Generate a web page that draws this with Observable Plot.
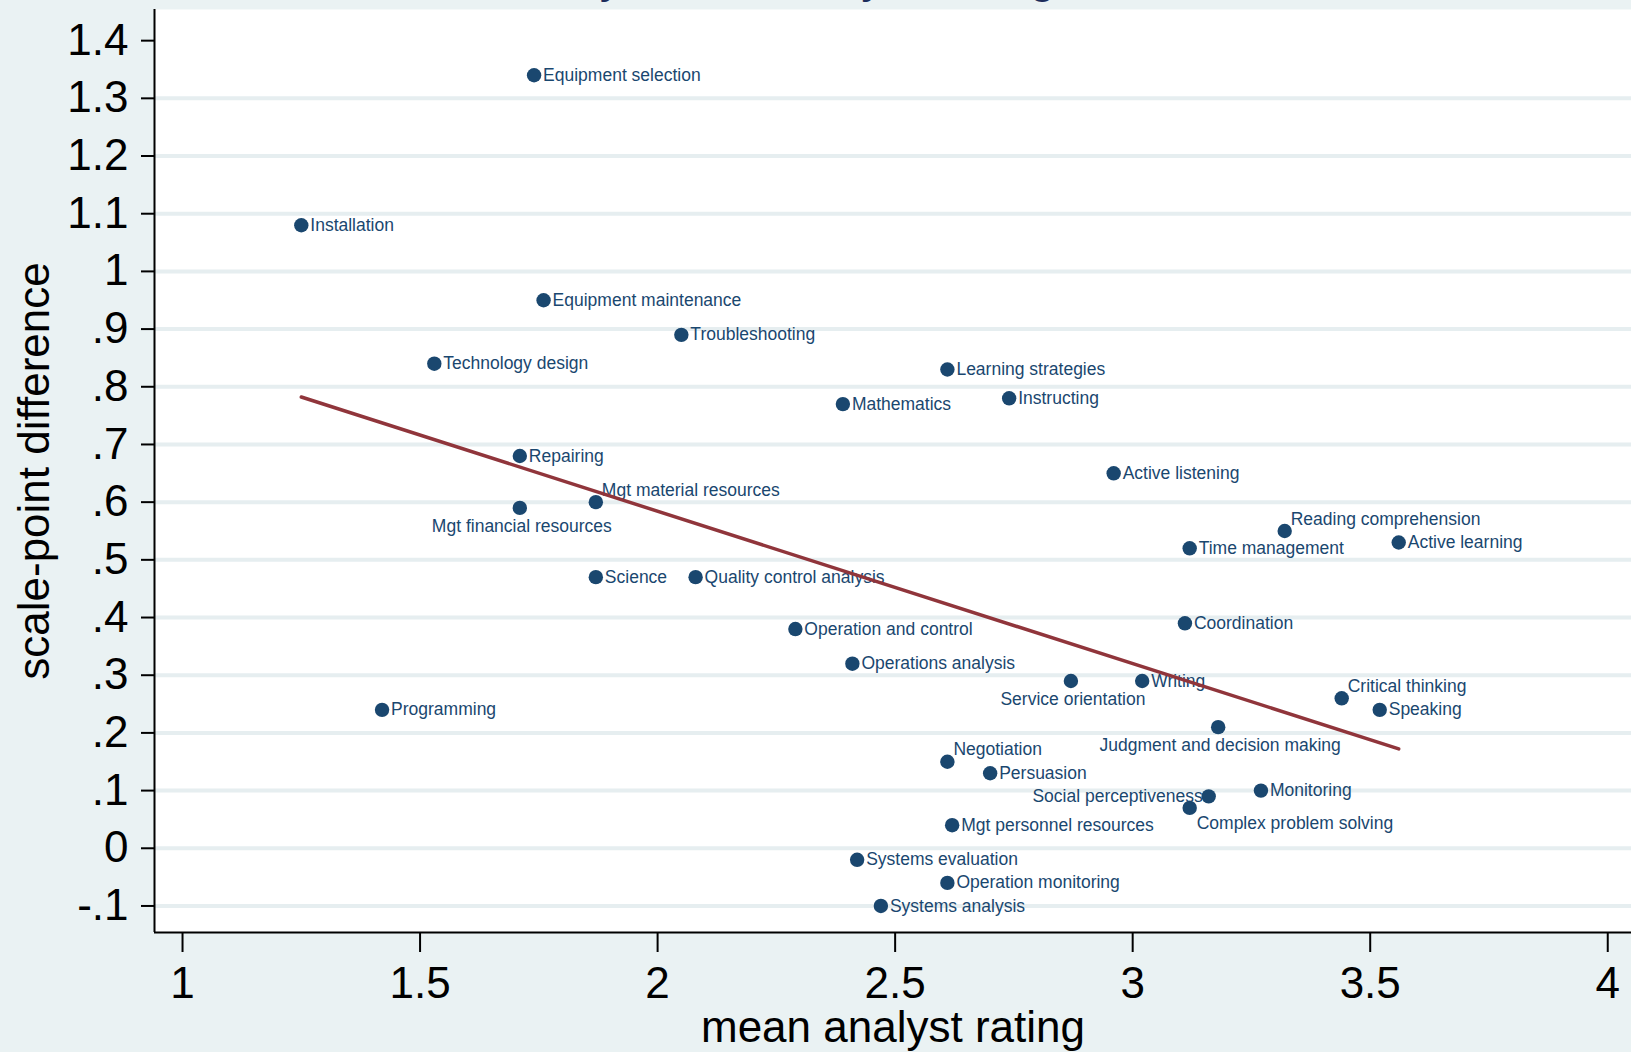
<!DOCTYPE html>
<html>
<head>
<meta charset="utf-8">
<script src="https://cdn.jsdelivr.net/npm/d3@7"></script>
<script src="https://cdn.jsdelivr.net/npm/@observablehq/plot@0.6"></script>
<style>
  html, body { margin: 0; padding: 0; background: #eaf2f3; overflow: hidden; }
  #wrap { position: relative; width: 1631px; height: 1052px; overflow: hidden; }
  #title { position: absolute; left: 0; top: -48px; width: 1056px; text-align: right;
           font: 48px "Liberation Sans", Arial, sans-serif; line-height: 1; color: #1c2d5c; white-space: nowrap; }
  #chart { position: absolute; left: 0; top: 0; }
</style>
</head>
<body>
<div id="wrap">
  <div id="title">Difference by mean analyst rating</div>
  <div id="chart"></div>
</div>
<script>
// ---- data ----
const skills = [
  "Equipment selection", "Installation", "Equipment maintenance", "Troubleshooting", "Technology design",
  "Learning strategies", "Mathematics", "Instructing", "Repairing", "Active listening",
  "Mgt material resources", "Mgt financial resources", "Reading comprehension", "Time management", "Active learning",
  "Science", "Quality control analysis", "Operation and control", "Coordination", "Operations analysis",
  "Service orientation", "Writing", "Critical thinking", "Speaking", "Programming",
  "Judgment and decision making", "Negotiation", "Persuasion", "Monitoring", "Social perceptiveness",
  "Complex problem solving", "Mgt personnel resources", "Systems evaluation", "Operation monitoring", "Systems analysis"
];
const meanRating = [
  1.74, 1.25, 1.76, 2.05, 1.53,
  2.61, 2.39, 2.74, 1.71, 2.96,
  1.87, 1.71, 3.32, 3.12, 3.56,
  1.87, 2.08, 2.29, 3.11, 2.41,
  2.87, 3.02, 3.44, 3.52, 1.42,
  3.18, 2.61, 2.70, 3.27, 3.16,
  3.12, 2.62, 2.42, 2.61, 2.47
];
const scaleDiff = [
  1.34, 1.08, 0.95, 0.89, 0.84,
  0.83, 0.77, 0.78, 0.68, 0.65,
  0.60, 0.59, 0.55, 0.52, 0.53,
  0.47, 0.47, 0.38, 0.39, 0.32,
  0.29, 0.29, 0.26, 0.24, 0.24,
  0.21, 0.15, 0.13, 0.10, 0.09,
  0.07, 0.04, -0.02, -0.06, -0.10
];
const xTicks = [1, 1.5, 2, 2.5, 3, 3.5, 4];
const yTicks = [-0.1, 0, 0.1, 0.2, 0.3, 0.4, 0.5, 0.6, 0.7, 0.8, 0.9, 1.0, 1.1, 1.2, 1.3, 1.4];
const yGrid = [-0.1, 0, 0.1, 0.2, 0.3, 0.4, 0.5, 0.6, 0.7, 0.8, 0.9, 1.0, 1.1, 1.2, 1.3];
const xDomain = [0.941, 4.05];
const yDomain = [-0.146, 1.454];

// ---- label placement (clock positions, Stata style) ----
const labelPos = {
  "Mgt material resources": 1, "Reading comprehension": 1, "Critical thinking": 1, "Negotiation": 1,
  "Mgt financial resources": 6, "Service orientation": 6, "Judgment and decision making": 6,
  "Social perceptiveness": 9, "Complex problem solving": 5
};

const rows = skills.map((s, i) => ({skill: s, x: meanRating[i], y: scaleDiff[i], pos: labelPos[s] || 3}));

const navy = "#1a476f";
const maroon = "#90353b";
const font = "'Liberation Sans', Arial, sans-serif";
const stataFmt = d => {
  const v = Math.round(d * 10) / 10;
  return String(v).replace(/^(-?)0\./, "$1.");
};

const labelCommon = {x: "x", y: "y", text: "skill", fill: navy, fontSize: 17.5, fontFamily: font};

const plot = Plot.plot({
  width: 1631,
  height: 1052,
  marginLeft: 154,
  marginRight: 0,
  marginTop: 9,
  marginBottom: 120,
  style: {background: "transparent", fontFamily: font, color: "black"},
  x: {domain: xDomain},
  y: {domain: yDomain},
  marks: [
    Plot.frame({fill: "white", stroke: "none"}),
    Plot.gridY(yGrid, {stroke: "#e6eef0", strokeOpacity: 1, strokeWidth: 4}),
    Plot.axisY(yTicks, {tickFormat: stataFmt, fontSize: 44, tickSize: 13, tickPadding: 13, stroke: "black", strokeWidth: 2, fill: "black", label: null}),
    Plot.axisX(xTicks, {tickFormat: d => String(d), fontSize: 44, tickSize: 20, tickPadding: 14, stroke: "black", strokeWidth: 2, fill: "black", label: null}),
    Plot.ruleX([xDomain[0]], {stroke: "black", strokeWidth: 2}),
    Plot.ruleY([yDomain[0]], {stroke: "black", strokeWidth: 2}),
    Plot.text(["scale-point difference"], {frameAnchor: "left", textAnchor: "middle", lineAnchor: "middle", rotate: -90, dx: -120, fontSize: 44, fill: "black", fontFamily: font}),
    Plot.text(["mean analyst rating"], {frameAnchor: "bottom", lineAnchor: "bottom", dy: 109, fontSize: 44, fill: "black", fontFamily: font}),
    Plot.dot(rows, {x: "x", y: "y", r: 7.2, fill: navy, stroke: "none"}),
    Plot.text(rows.filter(d => d.pos === 3), {...labelCommon, textAnchor: "start", lineAnchor: "middle", dx: 9}),
    Plot.text(rows.filter(d => d.pos === 1), {...labelCommon, textAnchor: "start", lineAnchor: "middle", dx: 6, dy: -12}),
    Plot.text(rows.filter(d => d.pos === 6), {...labelCommon, textAnchor: "middle", lineAnchor: "middle", dx: 2, dy: 18}),
    Plot.text(rows.filter(d => d.pos === 9), {...labelCommon, textAnchor: "end", lineAnchor: "middle", dx: -6}),
    Plot.text(rows.filter(d => d.pos === 5), {...labelCommon, textAnchor: "start", lineAnchor: "middle", dx: 7, dy: 15}),
    Plot.linearRegressionY(rows, {x: "x", y: "y", stroke: maroon, strokeWidth: 3.5, ci: 0})
  ]
});
document.getElementById("chart").appendChild(plot);
</script>
</body>
</html>
